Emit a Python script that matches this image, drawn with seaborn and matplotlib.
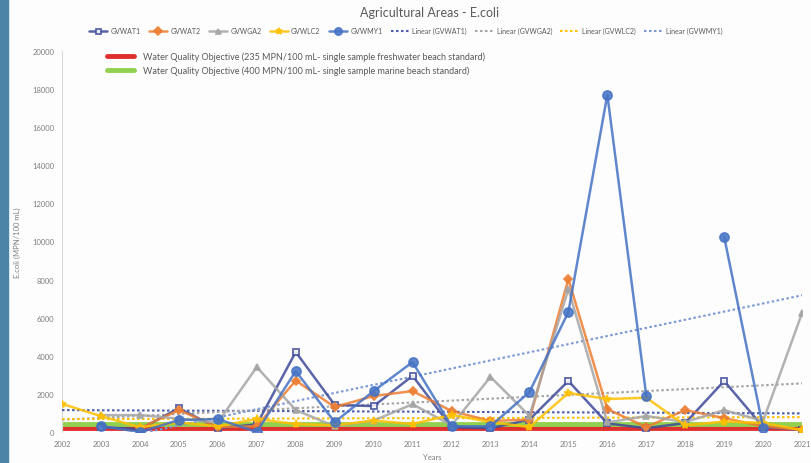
import matplotlib.pyplot as plt
import numpy as np
import pandas as pd
import seaborn as sns

years = list(range(2002, 2022))
nan = np.nan

gvwat1 = [nan, 250, 150, 1250, 200, 400, 4200, 1420, 1360, 2950, 250, 200, 650, 2680, 450, 200, 470, 2680, 260, 100]
gvwat2 = [nan, nan, 200, 1150, 260, 300, 2700, 1310, 1890, 2150, 1100, 580, 650, 8030, 1200, 260, 1150, 730, 300, 100]
gvwga2 = [nan, 880, 890, 700, 500, 3410, 1150, 300, 600, 1460, 350, 2890, 850, 7500, 500, 840, 520, 1150, 580, 6250]
gvwlc2 = [1480, 830, 250, 500, 300, 680, 420, 350, 600, 420, 900, 520, 260, 2050, 1730, 1800, 350, 550, 480, 100]
gvwmy1 = [nan, 315, 0, 630, 680, 0, 3200, 520, 2150, 3670, 300, 300, 2100, 6300, 17700, 1900, nan, 10240, 220, nan]

objective_fresh = 235
objective_marine = 400

series_names = ['GVWAT1', 'GVWAT2', 'GVWGA2', 'GVWLC2', 'GVWMY1']
series_values = [gvwat1, gvwat2, gvwga2, gvwlc2, gvwmy1]
trend_names = ['GVWAT1', 'GVWGA2', 'GVWLC2', 'GVWMY1']

line_colors = {'GVWAT1': '#3d4a9a', 'GVWAT2': '#ed7d31', 'GVWGA2': '#a5a5a5',
               'GVWLC2': '#ffc000', 'GVWMY1': '#4472c4'}
trend_colors = {'GVWAT1': '#4a5db0', 'GVWGA2': '#a5a5a5', 'GVWLC2': '#ffc000',
                'GVWMY1': '#7a98d6'}
markers = {'GVWAT1': 's', 'GVWAT2': 'D', 'GVWGA2': '^', 'GVWLC2': '*', 'GVWMY1': 'o'}
msizes = {'GVWAT1': 4.5, 'GVWAT2': 4.5, 'GVWGA2': 4.5, 'GVWLC2': 6, 'GVWMY1': 6.5}

sns.set_style('white')
plt.rcParams['font.family'] = ['Lato', 'DejaVu Sans']
text_grey = '#7f7f7f'

fig = plt.figure(figsize=(8.11, 4.64), dpi=100)
fig.patch.set_facecolor('#fdfdfd')
ax = fig.add_axes([0.0765, 0.0668, 0.9125, 0.8212])
ax.set_facecolor('#fdfdfd')
ax.set_xlim(2002, 2021)
ax.set_ylim(0, 20000)

# left blue strip
fig.patches.append(plt.Rectangle((0, 0), 0.010, 1, transform=fig.transFigure,
                                 color='#4a85a8', zorder=0))

df = pd.DataFrame({'year': years})
for name, vals in zip(series_names, series_values):
    df[name] = vals

# objective lines
h_red = ax.axhline(objective_fresh, color='#e0302e', lw=3.5, zorder=2)
h_green = ax.axhline(objective_marine, color='#92d050', lw=3.5, zorder=2)
red_label = 'Water Quality Objective (235 MPN/100 mL- single sample freshwater beach standard)'
green_label = 'Water Quality Objective (400 MPN/100 mL- single sample marine beach standard)'

handles = []
for name in series_names:
    mfc = 'white' if name == 'GVWAT1' else line_colors[name]
    # split into segments so gaps stay gaps
    seg = df[['year', name]].copy()
    seg['grp'] = seg[name].isna().cumsum()
    seg = seg.dropna()
    for _, part in seg.groupby('grp'):
        sns.lineplot(data=part, x='year', y=name, ax=ax, color=line_colors[name],
                     lw=1.8, alpha=0.85, marker=markers[name], markersize=msizes[name],
                     markerfacecolor=mfc, markeredgecolor=line_colors[name],
                     markeredgewidth=1.3, zorder=4, estimator=None)
    handles.append(ax.lines[-1])

trend_handles = []
for name in trend_names:
    sns.regplot(data=df, x='year', y=name, ax=ax, scatter=False, ci=None,
                truncate=False, color=trend_colors[name],
                line_kws={'ls': (0, (1.2, 1.2)), 'lw': 1.5, 'zorder': 3})
    trend_handles.append(ax.lines[-1])

if ax.get_legend() is not None:
    ax.get_legend().remove()

ax.set_xlim(2002, 2021)
ax.set_ylim(0, 20000)
ax.set_xticks(years)
ax.set_yticks(range(0, 20001, 2000))
ax.tick_params(axis='both', labelsize=5.5, colors=text_grey, length=2, width=0.6)
ax.tick_params(axis='x', length=0, pad=6)
for s in ['top', 'right', 'bottom']:
    ax.spines[s].set_visible(False)
ax.spines['left'].set_color('#d9d9d9')
ax.set_xlabel('Years', fontsize=5.5, color=text_grey, labelpad=4)
ax.set_ylabel('E.coli (MPN/100 mL)', fontsize=5.5, color=text_grey, labelpad=8)

fig.suptitle('Agricultural Areas - E.coli', x=0.53, y=0.985, fontsize=9, color='#595959')

leg1 = fig.legend(handles + trend_handles,
                  series_names + ['Linear (' + n + ')' for n in trend_names],
                  loc='center', bbox_to_anchor=(0.5, 0.932), ncol=9, frameon=False,
                  fontsize=5, labelcolor='#595959', handlelength=2.6,
                  columnspacing=1.2, handletextpad=0.5, markerscale=0.8)
leg2 = fig.legend([h_red, h_green], [red_label, green_label],
                  loc='upper left', bbox_to_anchor=(0.122, 0.905), frameon=False,
                  fontsize=6.5, labelcolor='#595959', handlelength=3,
                  handletextpad=1.0, labelspacing=0.55)

fig.savefig('out.png', dpi=100, facecolor=fig.get_facecolor())
